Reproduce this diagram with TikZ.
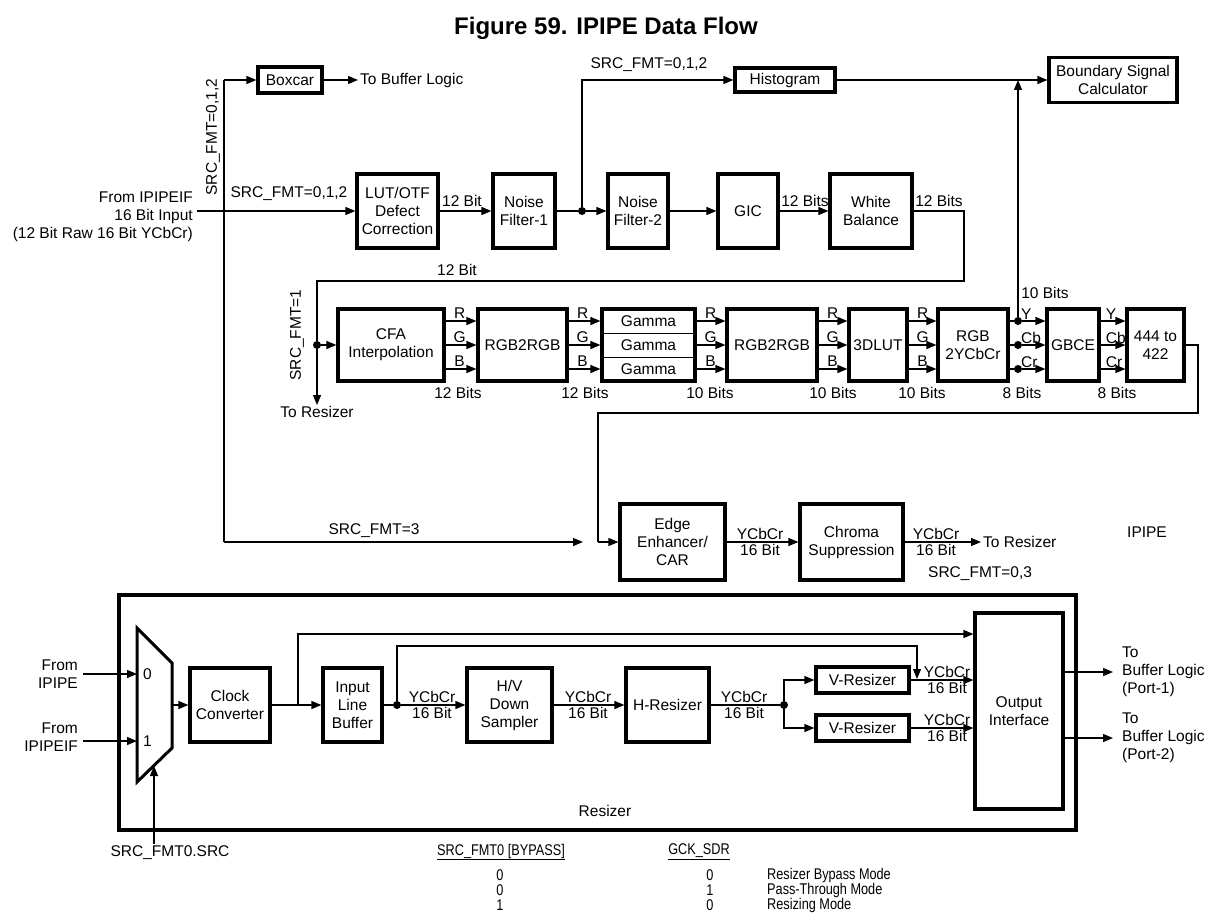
\documentclass[tikz,border=0pt]{standalone}
\usepackage{fontspec}
\setmainfont{Liberation Sans}
\newfontfamily\narrowfont[FakeStretch=0.82]{Liberation Sans}
\usetikzlibrary{arrows.meta}
\begin{document}
\begin{tikzpicture}[x=1pt,y=-1pt, font=\fontsize{15.5}{18}\selectfont,
 blk/.style={draw, line width=3.2pt, inner sep=0pt, align=center},
 ln/.style={line width=1.2pt},
 arr/.style={ln, -{Triangle[length=10pt,width=8pt]}},
 lbl/.style={inner sep=0pt},
 tbl/.style={inner sep=0pt, font=\narrowfont\fontsize{15.5}{18}\selectfont},
 dot/.style={circle, fill, inner sep=0pt, minimum size=8pt},
]
\useasboundingbox (0,0) rectangle (1212,920);
% title
\node[font=\fontsize{24}{28}\selectfont\bfseries] (title) at (606,28) {Figure 59. IPIPE Data Flow};

% ---------- top row ----------
\node[blk,minimum width=64pt,minimum height=26pt] (boxcar) at (290,80) {Boxcar};
\node[lbl,anchor=west] (tbl) at (360,80) {To Buffer Logic};
\node[blk,minimum width=100pt,minimum height=24pt] (hist) at (785,80) {Histogram};
\node[blk,minimum width=128pt,minimum height=45pt] (bsc) at (1113,80) {Boundary Signal\\Calculator};
\node[blk,minimum width=81pt,minimum height=74pt] (lut) at (397.5,211) {LUT/OTF\\Defect\\Correction};
\node[blk,minimum width=62pt,minimum height=74pt] (nf1) at (524,211) {Noise\\Filter-1};
\node[blk,minimum width=60pt,minimum height=74pt] (nf2) at (638,211) {Noise\\Filter-2};
\node[blk,minimum width=60pt,minimum height=74pt] (gic) at (748,211) {GIC};
\node[blk,minimum width=82pt,minimum height=74pt] (wb) at (871,211) {White\\Balance};

\node[lbl,anchor=east,align=right] (src) at (193,217) {From IPIPEIF\\16 Bit Input\\(12 Bit Raw 16 Bit YCbCr)};
\coordinate (inL) at (197,211);
\draw[arr] (inL) -- (lut.west);
\coordinate (vt) at (224,80);
\coordinate (vb) at (224,542);
\draw[ln] (vb) -- (vt);
\draw[arr] (vt) -- (boxcar.west);
\draw[arr, shorten >=2pt] (boxcar.east) -- (tbl.west);
\node[lbl,rotate=90] (sf012a) at (213,137) {SRC\_FMT=0,1,2};
\node[lbl] (sf012b) at (289,194) {SRC\_FMT=0,1,2};

\draw[arr] (lut.east) -- (nf1.west);
\node[lbl,anchor=south] (b12a) at (462,207) {12 Bit};
\node[dot] (d1) at (582,211) {};
\draw[ln] (nf1.east) -- (d1);
\draw[arr] (d1) -- (nf2.west);
\draw[arr] (d1) |- (hist.west);
\node[lbl] (sf012c) at (649,65) {SRC\_FMT=0,1,2};
\draw[arr] (nf2.east) -- (gic.west);
\draw[arr] (gic.east) -- (wb.west);
\node[lbl,anchor=south] (b12b) at (805,207) {12 Bits};
\draw[arr] (hist.east) -- (bsc.west);

\coordinate (w1) at (964,211);
\coordinate (w2) at (964,281);
\coordinate (w3) at (317,281);
\node[dot] (d2) at (317,345) {};
\draw[ln] (wb.east) -- (w1) -- (w2) -- (w3) -- (d2);
\node[lbl,anchor=south] (b12c) at (939,207) {12 Bits};
\node[lbl,anchor=south] (b12d) at (457,276) {12 Bit};
\coordinate (tr) at (317,405);
\draw[arr] (d2) -- (tr);
\node[lbl,anchor=north] (tores) at (317,406) {To Resizer};
\node[lbl,rotate=90] (sf1) at (297,335) {SRC\_FMT=1};

% ---------- middle row ----------
\node[blk,minimum width=106pt,minimum height=72pt] (cfa) at (391,345) {CFA\\Interpolation};
\node[blk,minimum width=89pt,minimum height=72pt] (rgba) at (522.5,345) {RGB2RGB};
\node[blk,minimum width=93pt,minimum height=72pt] (gam) at (648.5,345) {};
\node[lbl,minimum width=93pt,minimum height=24pt] (g1) at (648.5,321) {Gamma};
\node[lbl,minimum width=93pt,minimum height=24pt] (g2) at (648.5,345) {Gamma};
\node[lbl,minimum width=93pt,minimum height=24pt] (g3) at (648.5,369) {Gamma};
\draw[ln] (g1.south west) -- (g1.south east);
\draw[ln] (g2.south west) -- (g2.south east);
\node[blk,minimum width=90pt,minimum height=72pt] (rgbb) at (772,345) {RGB2RGB};
\node[blk,minimum width=58pt,minimum height=72pt] (lut3d) at (878,345) {3DLUT};
\node[blk,minimum width=70pt,minimum height=72pt] (ycc) at (973,345) {RGB\\2YCbCr};
\node[blk,minimum width=52pt,minimum height=72pt] (gbce) at (1073,345) {GBCE};
\node[blk,minimum width=57pt,minimum height=72pt] (c444) at (1155.5,345) {444 to\\422};

\draw[arr] (d2) -- (cfa.west);

\foreach \a/\b in {cfa/rgba, rgba/gam, gam/rgbb, rgbb/lut3d, lut3d/ycc}{
  \foreach \c/\yy in {R/321, G/345, B/369}{
    \draw[arr] (\a.east |- 0,\yy) -- (\b.west |- 0,\yy);
    \node[lbl,anchor=south] at ([xshift=14pt]\a.east |- 0,\yy-2) {\c};
  }
}
\node[lbl,anchor=north] at (458,387) {12 Bits};
\node[lbl,anchor=north] at (585,387) {12 Bits};
\node[lbl,anchor=north] at (710,387) {10 Bits};
\node[lbl,anchor=north] at (833,387) {10 Bits};
\node[lbl,anchor=north] at (922,387) {10 Bits};
\node[lbl,anchor=north] at (1022,387) {8 Bits};
\node[lbl,anchor=north] at (1117,387) {8 Bits};
\node[lbl] at (1045,293) {10 Bits};

\node[dot] (dy) at (1018,321) {};
\node[dot] (dcb) at (1018,345) {};
\node[dot] (dcr) at (1018,369) {};
\foreach \d/\c in {dy/Y, dcb/Cb, dcr/Cr}{
  \draw[ln] (ycc.east |- \d) -- (\d);
  \draw[arr] (\d) -- (gbce.west |- \d);
  \node[lbl,anchor=south west] at ([xshift=3pt,yshift=1pt]\d.center) {\c};
  \draw[arr] (gbce.east |- \d) -- (c444.west |- \d);
  \node[lbl,anchor=south west] at ([xshift=5pt,yshift=1pt]gbce.east |- \d) {\c};
}
\draw[arr] (dy) -- (dy |- hist.east);

\coordinate (o1) at (1198,345);
\coordinate (o2) at (1198,413);
\coordinate (o3) at (598,413);
\coordinate (o4) at (598,542);

% ---------- lower IPIPE row ----------
\node[blk,minimum width=105pt,minimum height=76pt] (edge) at (672.5,542) {Edge\\Enhancer/\\CAR};
\node[blk,minimum width=103pt,minimum height=76pt] (chroma) at (851.5,542) {Chroma\\Suppression};
\draw[ln] (c444.east) -- (o1) -- (o2) -- (o3) -- (o4);
\draw[arr] (o4) -- (edge.west);
\coordinate (s3) at (583,542);
\draw[arr] (vb) -- (s3);
\node[lbl,anchor=south] at (374,538) {SRC\_FMT=3};
\draw[arr] (edge.east) -- (chroma.west);
\node[lbl,anchor=south] at (760,540) {YCbCr};
\node[lbl,anchor=north] at (760,544) {16 Bit};
\coordinate (ctr) at (981,542);
\draw[arr] (chroma.east) -- (ctr);
\node[lbl,anchor=west] (tores2) at (983,542) {To Resizer};
\node[lbl,anchor=south] at (936,540) {YCbCr};
\node[lbl,anchor=north] at (936,544) {16 Bit};
\node[lbl,anchor=west] at (928,574) {SRC\_FMT=0,3};
\node[lbl] (ipipe) at (1147,532) {IPIPE};

% ---------- Resizer ----------
\node[draw,line width=3.5pt,inner sep=0pt,minimum width=957pt,minimum height=235pt] (rz) at (597.5,712.5) {};
\node[lbl] (rzl) at (605,811) {Resizer};
\draw[line width=3pt, line join=miter] (137,628) -- (172,663) -- (172,748) -- (137,782) -- cycle;
\coordinate (m0) at (137,674);
\coordinate (m1) at (137,741);
\coordinate (mo) at (172,705);
\coordinate (ms) at (154,766);
\node[lbl,anchor=west] at (143,674) {0};
\node[lbl,anchor=west] at (143,741) {1};
\node[lbl,anchor=east,align=right] (fi) at (78,674) {From\\IPIPE};
\node[lbl,anchor=east,align=right] (fif) at (78,737) {From\\IPIPEIF};
\coordinate (fi0) at (83,674);
\coordinate (fi1) at (83,741);
\draw[arr] (fi0) -- (m0);
\draw[arr] (fi1) -- (m1);
\node[lbl] (sfs) at (170,853) {SRC\_FMT0.SRC};
\coordinate (ms0) at (154,844);
\draw[arr] (ms0) -- (ms);

\node[blk,minimum width=80pt,minimum height=74pt] (cc) at (230,705) {Clock\\Converter};
\node[blk,minimum width=59pt,minimum height=74pt] (ilb) at (352.5,705) {Input\\Line\\Buffer};
\node[blk,minimum width=85pt,minimum height=74pt] (hvds) at (509.5,705) {H/V\\Down\\Sampler};
\node[blk,minimum width=83pt,minimum height=74pt] (hres) at (667.5,705) {H-Resizer};
\node[blk,minimum width=93pt,minimum height=26pt] (vr1) at (862.5,680) {V-Resizer};
\node[blk,minimum width=93pt,minimum height=26pt] (vr2) at (862.5,728) {V-Resizer};
\node[blk,minimum width=88pt,minimum height=196pt] (oi) at (1019,711) {Output\\Interface};

\draw[arr] (mo) -- (cc.west);
\draw[arr] (cc.east) -- (ilb.west);
\coordinate (b1) at (298,705);
\coordinate (b1t) at (298,634);
\draw[arr] (b1) -- (b1t) -- (oi.west |- b1t);
\node[dot] (d3) at (397,705) {};
\draw[ln] (ilb.east) -- (d3);
\draw[arr] (d3) -- (hvds.west);
\node[lbl,anchor=south] at (432,703) {YCbCr};
\node[lbl,anchor=north] at (432,707) {16 Bit};
\coordinate (d3t) at (397,646);
\coordinate (d3r) at (917,646);
\coordinate (d3e) at (917,679);
\draw[arr] (d3) -- (d3t) -- (d3r) -- (d3e);
\draw[arr] (hvds.east) -- (hres.west);
\node[lbl,anchor=south] at (588,703) {YCbCr};
\node[lbl,anchor=north] at (588,707) {16 Bit};
\node[dot] (d4) at (784,705) {};
\draw[ln] (hres.east) -- (d4);
\node[lbl,anchor=south] at (744,703) {YCbCr};
\node[lbl,anchor=north] at (744,707) {16 Bit};
\draw[arr] (d4) |- (vr1.west);
\draw[arr] (d4) |- (vr2.west);
\draw[arr] (vr1.east) -- (oi.west |- vr1.east);
\draw[arr] (vr2.east) -- (oi.west |- vr2.east);
\node[lbl,anchor=south] at (947,678) {YCbCr};
\node[lbl,anchor=north] at (947,682) {16 Bit};
\node[lbl,anchor=south] at (947,726) {YCbCr};
\node[lbl,anchor=north] at (947,730) {16 Bit};
\coordinate (p1) at (1113,672);
\coordinate (p2) at (1113,738);
\draw[arr] (oi.east |- p1) -- (p1);
\draw[arr] (oi.east |- p2) -- (p2);
\node[lbl,anchor=west,align=left] at (1122,672) {To\\Buffer Logic\\(Port-1)};
\node[lbl,anchor=west,align=left] at (1122,738) {To\\Buffer Logic\\(Port-2)};

% ---------- table ----------
\node[tbl] at (501,852) {\underline{SRC\_FMT0 [BYPASS]}};
\node[tbl] at (699,852) {\underline{GCK\_SDR}};
\node[tbl] at (500,875) {0};
\node[tbl] at (500,890) {0};
\node[tbl] at (500,905) {1};
\node[tbl] at (710,875) {0};
\node[tbl] at (710,890) {1};
\node[tbl] at (710,905) {0};
\node[tbl,anchor=west] at (767,875) {Resizer Bypass Mode};
\node[tbl,anchor=west] at (767,890) {Pass-Through Mode};
\node[tbl,anchor=west] at (767,905) {Resizing Mode};
\end{tikzpicture}
\end{document}
